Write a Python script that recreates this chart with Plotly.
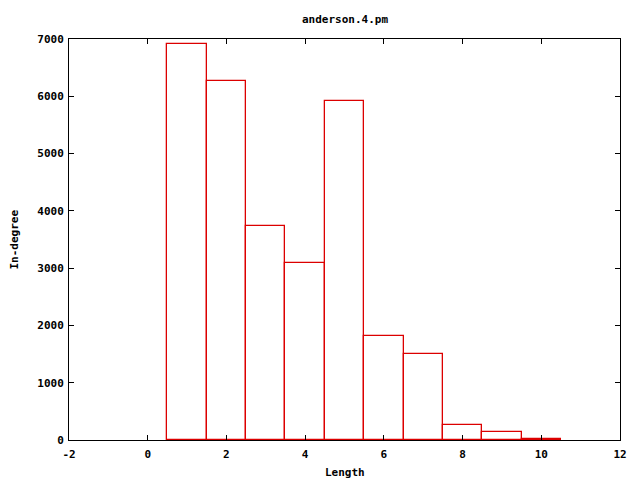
import plotly.graph_objects as go

lengths = [1, 2, 3, 4, 5, 6, 7, 8, 9, 10]
indegree = [6916, 6271, 3743, 3086, 5922, 1808, 1494, 256, 134, 17]

x_ticks = [-2, 0, 2, 4, 6, 8, 10, 12]
y_ticks = [0, 1000, 2000, 3000, 4000, 5000, 6000, 7000]

title_text = "anderson.4.pm"
x_title = "Length"
y_title = "In-degree"

font_family = "DejaVu Sans Mono"
txt_font = dict(family=font_family, size=11, color="black", weight="bold")

fig = go.Figure()
fig.add_trace(go.Bar(
    x=lengths, y=indegree, width=1,
    marker=dict(color="rgba(0,0,0,0)", line=dict(color="rgb(220,0,0)", width=1.3)),
    showlegend=False,
))

axis_common = dict(
    showgrid=False, zeroline=False, showline=True, linecolor="black", linewidth=1,
    mirror="ticks", ticks="inside", ticklen=5, tickcolor="black", tickwidth=1,
    tickfont=txt_font, automargin=False, layer="above traces",
)

fig.update_layout(
    width=632, height=472,
    margin=dict(l=61, r=20, t=31, b=40, autoexpand=False),
    paper_bgcolor="white", plot_bgcolor="white",
    bargap=0,
    xaxis=dict(range=[-2, 12], tickvals=x_ticks, ticktext=[str(v) for v in x_ticks],
               ticklabelstandoff=4, **axis_common),
    yaxis=dict(range=[0, 7000], tickvals=y_ticks, ticktext=[str(v) for v in y_ticks],
               ticklabelstandoff=2, **axis_common),
    annotations=[
        dict(text=title_text, xref="paper", yref="paper", x=0.5, y=1, yshift=20,
             xanchor="center", yanchor="middle", showarrow=False, font=txt_font),
        dict(text=x_title, xref="paper", yref="paper", x=0.5, y=0, yshift=-32,
             xanchor="center", yanchor="middle", showarrow=False, font=txt_font),
        dict(text=y_title, xref="paper", yref="paper", x=0, y=0.5, xshift=-55,
             xanchor="center", yanchor="middle", textangle=-90, showarrow=False, font=txt_font),
    ],
)

fig.write_html("out.html")
